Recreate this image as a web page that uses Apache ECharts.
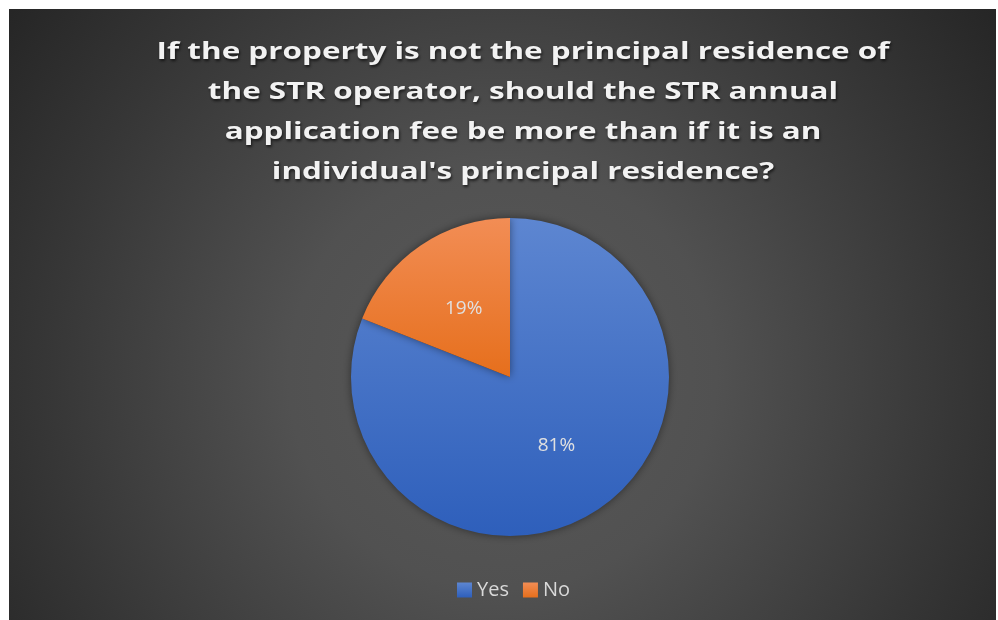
<!DOCTYPE html>
<html>
<head>
<meta charset="utf-8">
<title>STR annual application fee survey</title>
<script src="https://cdn.jsdelivr.net/npm/echarts@6/dist/echarts.min.js"></script>
<style>
  html, body { margin: 0; padding: 0; background: #ffffff; }
  #chart { width: 998px; height: 620px; }
</style>
</head>
<body>
<div id="chart"></div>
<script>
// Survey answers and their shares (percent)
const categories = ['Yes', 'No'];
const shares = [81, 19];

const titleLines = [
  'If the property is not the principal residence of',
  'the STR operator, should the STR annual',
  'application fee be more than if it is an',
  "individual's principal residence?"
];

// Slice fills: top-to-bottom shading per slice
const sliceFills = [
  { top: '#5d86d1', bottom: '#2e5fbb' },
  { top: '#f28d55', bottom: '#e66f1c' }
];

const chart = echarts.init(document.getElementById('chart'), null, { renderer: 'canvas' });

const pieData = categories.map((name, i) => ({
  name: name,
  value: shares[i],
  itemStyle: {
    color: {
      type: 'linear', x: 0, y: 0, x2: 0, y2: 1,
      colorStops: [
        { offset: 0, color: sliceFills[i].top },
        { offset: 1, color: sliceFills[i].bottom }
      ]
    }
  }
}));

// Title lines, spread wide like a tracked heading
const titleCenterX = 523;
const titleFirstY = 52;
const titleLineGap = 40;
const titleGraphics = titleLines.map((line, i) => ({
  type: 'text',
  silent: true,
  x: titleCenterX,
  y: titleFirstY + i * titleLineGap,
  scaleX: 1.31,
  style: {
    text: line,
    align: 'center',
    verticalAlign: 'middle',
    font: 'bold 24px "Open Sans"',
    fill: '#f2f2f2',
    textShadowColor: 'rgba(0,0,0,0.65)',
    textShadowBlur: 3,
    textShadowOffsetX: 1,
    textShadowOffsetY: 2
  }
}));

chart.setOption({
  backgroundColor: 'transparent',
  animation: false,
  graphic: [
    {
      type: 'rect',
      z: -10,
      silent: true,
      shape: { x: 9, y: 9, width: 987, height: 611 },
      style: {
        fill: {
          type: 'radial', x: 0.5, y: 0.6, r: 1.0,
          colorStops: [
            { offset: 0, color: '#595959' },
            { offset: 0.35, color: '#515151' },
            { offset: 0.75, color: '#363636' },
            { offset: 1, color: '#262626' }
          ]
        }
      }
    }
  ].concat(titleGraphics),
  legend: {
    data: categories,
    left: 457,
    top: 580,
    padding: 0,
    icon: 'rect',
    itemWidth: 15,
    itemHeight: 15,
    itemGap: 14,
    textStyle: {
      fontFamily: 'Open Sans',
      fontSize: 20,
      color: '#d9d9d9'
    },
    selectedMode: false
  },
  series: [
    {
      type: 'pie',
      center: [510, 377],
      radius: [0, 159],
      startAngle: 90,
      clockwise: true,
      data: pieData,
      itemStyle: {
        borderWidth: 0,
        shadowBlur: 8,
        shadowColor: 'rgba(0,0,0,0.45)'
      },
      label: {
        show: true,
        position: 'inside',
        formatter: '{c}%',
        fontFamily: 'Open Sans',
        fontSize: 19,
        color: '#e0e0e0'
      },
      labelLine: { show: false },
      emphasis: { disabled: true }
    }
  ]
});
</script>
</body>
</html>
